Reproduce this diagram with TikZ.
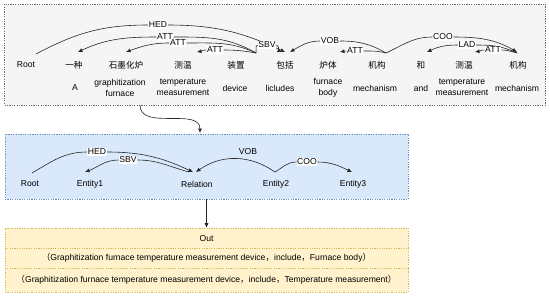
\documentclass[tikz,border=0pt]{standalone}
\usepackage{fontspec}
\setmainfont{Liberation Sans}
\newfontfamily\cjk{Noto Sans CJK SC}
\usepackage{tikz}
\usetikzlibrary{arrows.meta}
\pgfdeclarelayer{back}
\pgfdeclarelayer{front}
\pgfsetlayers{back,main,front}
\definecolor{topfill}{HTML}{F5F5F5}
\definecolor{topline}{HTML}{666666}
\definecolor{midfill}{HTML}{DAE8FC}
\definecolor{midline}{HTML}{6C8EBF}
\definecolor{outfill}{HTML}{FFF2CC}
\definecolor{outline}{HTML}{D6B656}
\newcommand{\fw}[1]{{\cjk #1}}

\begin{document}
\begin{tikzpicture}[x=1pt, y=1pt,
    word/.style={font=\fontsize{8.6}{10}\selectfont, inner sep=0pt},
    zh/.style={font=\cjk\fontsize{8.6}{10}\selectfont, inner sep=0pt},
    en/.style={font=\fontsize{8.6}{11}\selectfont, align=center, inner sep=0pt},
    rel/.style={font=\fontsize{8.6}{10}\selectfont, fill=white, inner sep=0.6pt},
    arc/.style={draw=black!85, line width=0.6pt},
    tip/.style={arc, -{Latex[length=4.5pt, width=4pt]}},
    box/.style={inner sep=0pt, dash pattern=on 1.2pt off 1.2pt, line width=0.6pt},
  ]
  \useasboundingbox (0,0) rectangle (550,-298);

  % parse tree
  \begin{pgfonlayer}{back}
  \node[box, draw=topline, fill=topfill, minimum width=541pt, minimum height=101pt] (parse) at (275,-54.5) {};
  \node[box, draw=midline, fill=midfill, minimum width=403pt, minimum height=65pt] (mid) at (206.5,-166.5) {};
  \node[box, draw=outline, fill=outfill, minimum width=403pt, minimum height=64pt] (out) at (206.5,-260) {};
  \end{pgfonlayer}
  \node[word] (w0) at (26,-65) {Root};
  \node[zh] (w1) at (74,-65) {一种};
  \node[zh] (w2) at (126,-65) {石墨化炉};
  \node[zh] (w3) at (183,-65) {测温};
  \node[zh] (w4) at (236,-65) {装置};
  \node[zh] (w5) at (285,-65) {包括};
  \node[zh] (w6) at (328,-65) {炉体};
  \node[zh] (w7) at (377,-65) {机构};
  \node[zh] (w8) at (421,-65) {和};
  \node[zh] (w9) at (464,-65) {测温};
  \node[zh] (w10) at (518,-65) {机构};
  \node[en] (g1) at (75,-88) {A};
  \node[en] (g2) at (120,-87.5) {graphitization\\furnace};
  \node[en] (g3) at (183,-87.5) {temperature\\measurement};
  \node[en] (g4) at (235,-88) {device};
  \node[en] (g5) at (280,-88) {licludes};
  \node[en] (g6) at (328,-87.5) {furnace\\body};
  \node[en] (g7) at (375,-88) {mechanism};
  \node[en] (g8) at (421,-88) {and};
  \node[en] (g9) at (462,-87.5) {temperature\\measurement};
  \node[en] (g10) at (517,-88) {mechanism};

  \coordinate (s0) at (36,-54);
  \coordinate (s4) at (256,-53);
  \coordinate (s7) at (386,-53);
  \coordinate (s10) at (517,-53);
  \coordinate (t1) at (78,-52);
  \coordinate (t2) at (126,-52);
  \coordinate (t3) at (197,-52);
  \coordinate (t5a) at (285,-52);
  \coordinate (t5b) at (282,-52);
  \coordinate (t5c) at (290,-52);
  \coordinate (t6) at (340,-52);
  \coordinate (t8) at (427,-52);
  \coordinate (t9) at (475,-52);
  \coordinate (t10) at (517,-52);

  \begin{pgfonlayer}{front}
  \node[rel] (hed) at (158,-25) {HED};
  \node[rel] (att1) at (165,-37) {ATT};
  \node[rel] (att2) at (178,-43) {ATT};
  \node[rel] (att3) at (215,-50) {ATT};
  \node[rel] (sbv) at (267,-45) {SBV};
  \node[rel] (vob) at (330,-41) {VOB};
  \node[rel] (att4) at (355,-51) {ATT};
  \node[rel] (coo) at (443,-37) {COO};
  \node[rel] (lad) at (467,-45) {LAD};
  \node[rel] (att5) at (493,-50) {ATT};
  \end{pgfonlayer}

  \draw[arc] (s0) to[out=28, in=180] (hed.west);
  \draw[tip] (hed.east) to[out=0, in=155] (t5a);
  \draw[arc] (s4) to[out=150, in=0] (att1.east);
  \draw[tip] (att1.west) to[out=180, in=25] (t1);
  \draw[arc] (s4) to[out=155, in=0] (att2.east);
  \draw[tip] (att2.west) to[out=180, in=20] (t2);
  \draw[arc] (s4) to[out=170, in=0] (att3.east);
  \draw[tip] (att3.west) to[out=180, in=10] (t3);
  \draw[arc] (s4) to[out=70, in=200] (sbv.west);
  \draw[tip] (sbv.east) to[out=-20, in=160] (t5b);
  \draw[arc] (s7) to[out=150, in=0] (vob.east);
  \draw[tip] (vob.west) to[out=180, in=30] (t5c);
  \draw[arc] (s7) to[out=165, in=0] (att4.east);
  \draw[tip] (att4.west) to[out=180, in=10] (t6);
  \draw[arc] (s7) to[out=25, in=180] (coo.west);
  \draw[tip] (coo.east) to[out=0, in=150] (t10);
  \draw[arc] (s10) to[out=155, in=0] (lad.east);
  \draw[tip] (lad.west) to[out=180, in=25] (t8);
  \draw[arc] (s10) to[out=165, in=0] (att5.east);
  \draw[tip] (att5.west) to[out=180, in=10] (t9);

  % triples
  \node[word] (m0) at (30,-184) {Root};
  \node[word] (m1) at (90,-184) {Entity1};
  \node[word] (m2) at (197,-184) {Relation};
  \node[word] (m3) at (276,-184) {Entity2};
  \node[word] (m4) at (353,-184) {Entity3};

  \coordinate (ms0) at (32,-173);
  \coordinate (ms2) at (189,-172);
  \coordinate (ms3) at (275,-172);
  \coordinate (mt1) at (85,-172);
  \coordinate (mt2) at (193,-172);
  \coordinate (mt2b) at (196,-172);
  \coordinate (mt4) at (352,-172);

  \begin{pgfonlayer}{front}
  \node[rel] (hed2) at (97,-152) {HED};
  \node[rel] (sbv2) at (128,-160) {SBV};
  \node[word] (vob2) at (248,-152) {VOB};
  \node[rel] (coo2) at (307,-162) {COO};
  \end{pgfonlayer}

  \draw[arc] (ms0) to[out=30, in=180] (hed2.west);
  \draw[tip] (hed2.east) to[out=0, in=155] (mt2);
  \draw[arc] (ms2) to[out=165, in=0] (sbv2.east);
  \draw[tip] (sbv2.west) to[out=180, in=20] (mt1);
  \draw[tip] (ms3) to[out=145, in=35] (mt2b);
  \draw[arc] (ms3) to[out=30, in=180] (coo2.west);
  \draw[tip] (coo2.east) to[out=0, in=155] (mt4);

  % output
  \draw[box, draw=outline] (out.west |- 0,-248) -- (out.east |- 0,-248);
  \draw[box, draw=outline] (out.west |- 0,-268) -- (out.east |- 0,-268);
  \node[word] (o1) at (206.5,-239) {Out};
  \node[word] (o2) at (206.5,-258) {\fw{（}Graphitization furnace temperature measurement device\fw{，}include\fw{，}Furnace body\fw{）}};
  \node[word] (o3) at (206.5,-280) {\fw{（}Graphitization furnace temperature measurement device\fw{，}include\fw{，}Temperature measurement\fw{）}};

  \coordinate (c1) at (140,-105);
  \coordinate (c2) at (200,-133);
  \draw[tip] (c1) to[out=-90, in=90] (c2);
  \draw[tip] (mid.south) -- (out.north);
\end{tikzpicture}
\end{document}
